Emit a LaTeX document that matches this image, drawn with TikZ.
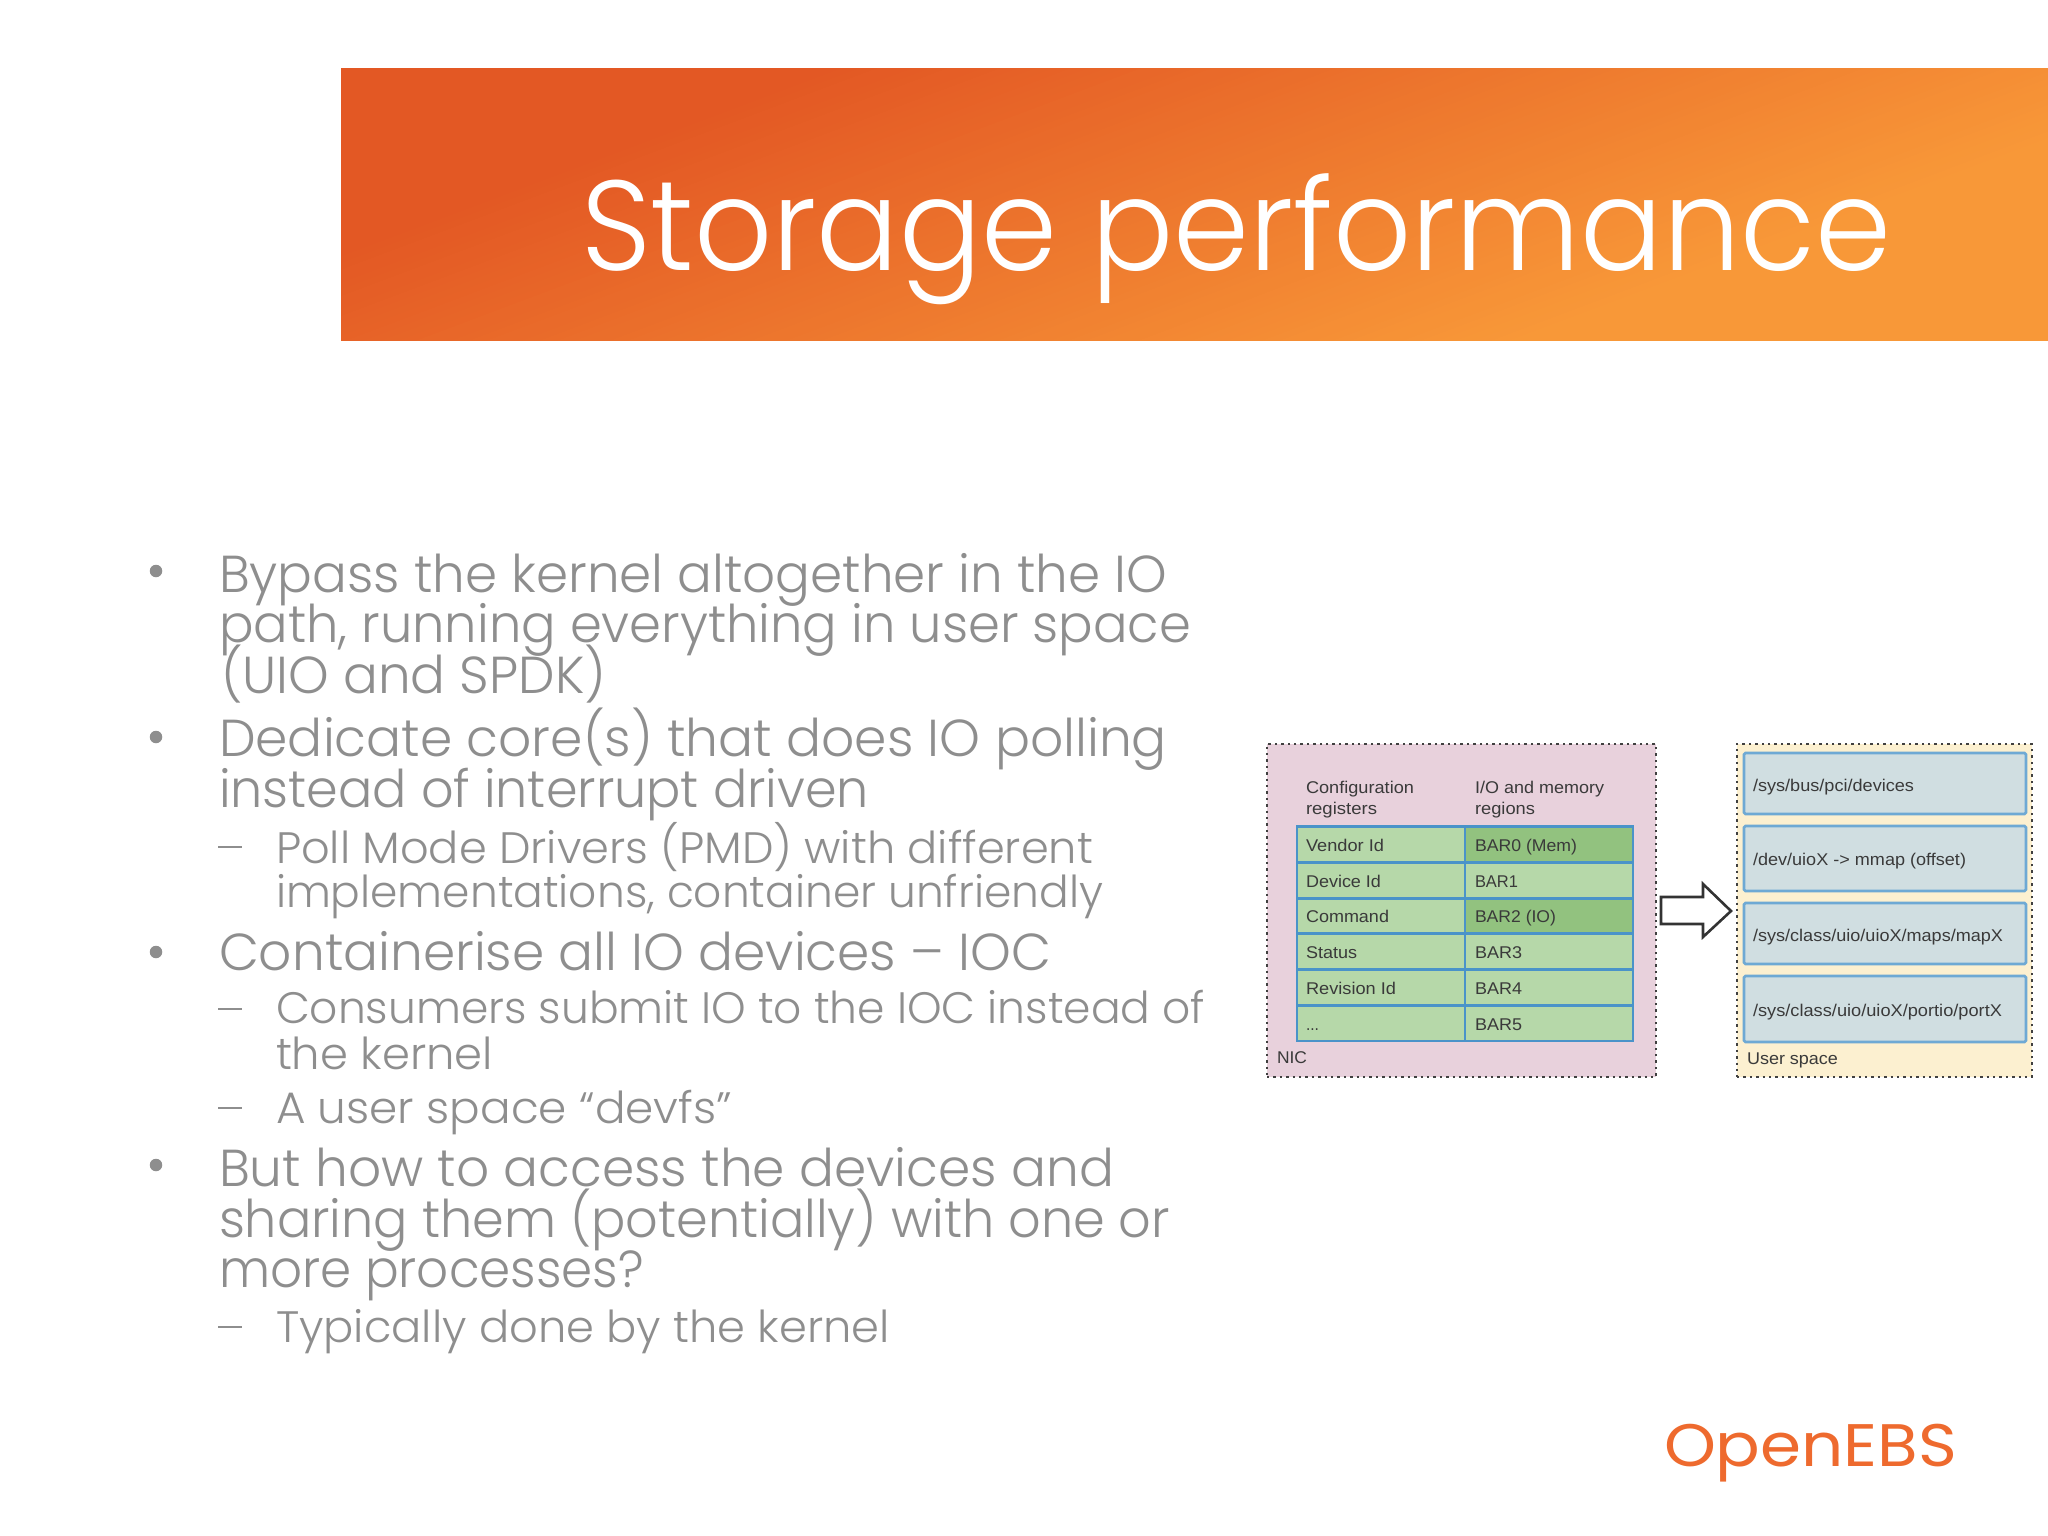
\documentclass[tikz,border=0pt]{standalone}
\usepackage{graphicx}
\usepackage{fontspec}
\setmainfont{Poppins Light}
\newfontfamily\diagfont{Liberation Sans}
\newfontfamily\logofont{Poppins}
\definecolor{bandark}{HTML}{E35824}
\definecolor{banlight}{HTML}{F89838}
\definecolor{bodygrey}{HTML}{8E8E8E}
\definecolor{nicpink}{HTML}{E8D1DC}
\definecolor{userbg}{HTML}{FCF0D0}
\definecolor{cellgreen}{HTML}{B6D8A9}
\definecolor{celldark}{HTML}{92C27F}
\definecolor{cellline}{HTML}{4A93C9}
\definecolor{pathbox}{HTML}{D0DEE1}
\definecolor{dtext}{HTML}{3A3A3A}
\definecolor{logoorange}{HTML}{EE6A2E}
\newcommand{\fitw}[2]{\resizebox{#1pt}{\height}{#2}}
\newcommand{\threedots}{...}
\tikzset{
  line/.style={inner sep=0pt,outer sep=0pt,anchor=base west,text=bodygrey},
  major/.style={line,font=\fontsize{52}{52}\selectfont},
  minor/.style={line,font=\fontsize{44}{44}\selectfont},
  bulletdot/.style={circle,fill=bodygrey,inner sep=0pt,minimum size=12.5pt},
  dashmark/.style={rectangle,fill=bodygrey,inner sep=0pt,minimum width=24pt,minimum height=2.8pt},
  region/.style={rectangle,inner sep=0pt,outer sep=0pt,draw=black!75,line width=2.6pt,dash pattern=on 2.4pt off 4pt,anchor=north west},
  cellbox/.style={rectangle,inner sep=0pt,outer sep=0pt,draw=cellline,line width=2.8pt,anchor=north west,minimum width=168pt,minimum height=35.7pt},
  pathnode/.style={rectangle,rounded corners=1.5pt,inner sep=0pt,outer sep=0pt,draw=cellline!80,line width=2.6pt,fill=pathbox,anchor=north west,minimum width=282pt},
  dlabel/.style={inner sep=0pt,outer sep=0pt,anchor=base west,text=dtext,font=\diagfont\fontsize{17}{17}\selectfont},
}
\begin{document}
\begin{tikzpicture}[x=1pt,y=-1pt]
\useasboundingbox (0,0) rectangle (2048,1536);
\fill[white] (0,0) rectangle (2048,1536);
% banner: diagonal gradient built from overlapping bands
\begin{scope}
  \clip (341,60) rectangle (2048,350);
  \fill[bandark] (341,60) rectangle (2048,350);
  \begin{scope}[shift={(341,68)},rotate=-69.4]
    \foreach \i in {1,...,80}{
      \pgfmathsetmacro{\pos}{170+6.2*\i}
      \pgfmathsetmacro{\pct}{100*\i/80}
      \fill[banlight!\pct!bandark] (\pos,-3000) rectangle (3000,3000);
    }
  \end{scope}
\end{scope}
\fill[white] (335,55) rectangle (2048,68);
\fill[white] (335,341) rectangle (2048,355);
\node[line,text=white,font=\fontsize{128}{128}\selectfont] (title) at (581,270) {\fitw{1310}{Storage performance}};
% body
\node[bulletdot] (b1) at (156,571) {};
\node[major] (l1) at (219,592) {\fitw{948}{Bypass the kernel altogether in the IO}};
\node[major] (l2) at (219,642) {\fitw{972}{path, running everything in user space}};
\node[major] (l3) at (221,693) {\fitw{385}{(UIO and SPDK)}};
\node[bulletdot] (b2) at (156,737) {};
\node[major] (l4) at (219,756) {\fitw{948}{Dedicate core(s) that does IO polling}};
\node[major] (l5) at (219,807) {\fitw{650}{instead of interrupt driven}};
\node[dashmark] (d1) at (230,847) {};
\node[minor] (l6) at (276,863) {\fitw{817}{Poll Mode Drivers (PMD) with different}};
\node[minor] (l7) at (276,907) {\fitw{827}{implementations, container unfriendly}};
\node[bulletdot] (b3) at (156,952) {};
\node[major] (l8) at (219,970) {\fitw{832}{Containerise all IO devices – IOC}};
\node[dashmark] (d2) at (230,1009) {};
\node[minor] (l9) at (276,1023) {\fitw{929}{Consumers submit IO to the IOC instead of}};
\node[minor] (l10) at (276,1069) {\fitw{217}{the kernel}};
\node[dashmark] (d3) at (230,1108) {};
\node[minor] (l11) at (276,1123) {\fitw{456}{A user space “devfs”}};
\node[bulletdot] (b4) at (156,1165) {};
\node[major] (l12) at (219,1186) {\fitw{895}{But how to access the devices and}};
\node[major] (l13) at (219,1237) {\fitw{951}{sharing them (potentially) with one or}};
\node[major] (l14) at (219,1287) {\fitw{425}{more processes?}};
\node[dashmark] (d4) at (230,1327) {};
\node[minor] (l15) at (276,1342) {\fitw{614}{Typically done by the kernel}};
% NIC
\node[region,fill=nicpink,minimum width=389pt,minimum height=333pt] (nic) at (1267,744) {};
\node[dlabel] (h1a) at (1306,793) {\fitw{108}{Configuration}};
\node[dlabel] (h1b) at (1306,814) {\fitw{71}{registers}};
\node[dlabel] (h2a) at (1475,793) {\fitw{129}{I/O and memory}};
\node[dlabel] (h2b) at (1475,814) {\fitw{60}{regions}};
\foreach \nm/\y/\base/\ltext/\lw/\rtext/\rw/\rfill in {
  r1/826.7/851/Vendor Id/78/BAR0 (Mem)/102/celldark,
  r2/862.4/887/Device Id/75/BAR1/43/cellgreen,
  r3/898.1/922/Command/83/BAR2 (IO)/81/celldark,
  r4/933.8/958/Status/51/BAR3/47/cellgreen,
  r5/969.5/994/Revision Id/90/BAR4/47/cellgreen,
  r6/1005.2/1030/\threedots/13/BAR5/47/cellgreen}{
  \node[cellbox,fill=cellgreen] (\nm a) at (1297,\y) {};
  \node[cellbox,fill=\rfill] (\nm b) at (1465,\y) {};
  \node[dlabel] (\nm at) at (1306,\base) {\fitw{\lw}{\ltext}};
  \node[dlabel] (\nm bt) at (1475,\base) {\fitw{\rw}{\rtext}};
}
\node[dlabel] (niclabel) at (1277,1063) {\fitw{30}{NIC}};
% block arrow
\draw[line width=2.6pt,draw=black!80,fill=white,line join=miter] (1661,897) -- (1703,897) -- (1703,884) -- (1731,911) -- (1703,937) -- (1703,924) -- (1661,924) -- cycle;
% user space
\node[region,fill=userbg,minimum width=295pt,minimum height=333pt] (user) at (1737,744) {};
\node[pathnode,minimum height=61pt] (p1) at (1744,753) {};
\node[pathnode,minimum height=65pt] (p2) at (1744,826) {};
\node[pathnode,minimum height=61pt] (p3) at (1744,903) {};
\node[pathnode,minimum height=66pt] (p4) at (1744,976) {};
\node[dlabel] (p1t) at (1753,791) {\fitw{161}{/sys/bus/pci/devices}};
\node[dlabel] (p2t) at (1753,865) {\fitw{213}{/dev/uioX -> mmap (offset)}};
\node[dlabel] (p3t) at (1753,941) {\fitw{250}{/sys/class/uio/uioX/maps/mapX}};
\node[dlabel] (p4t) at (1753,1016) {\fitw{249}{/sys/class/uio/uioX/portio/portX}};
\node[dlabel] (userlabel) at (1747,1064) {\fitw{91}{User space}};
% logo
\node[line,text=logoorange,font=\logofont\fontsize{60}{60}\selectfont] (logo) at (1664,1466) {\fitw{293}{OpenEBS}};
\end{tikzpicture}
\end{document}
